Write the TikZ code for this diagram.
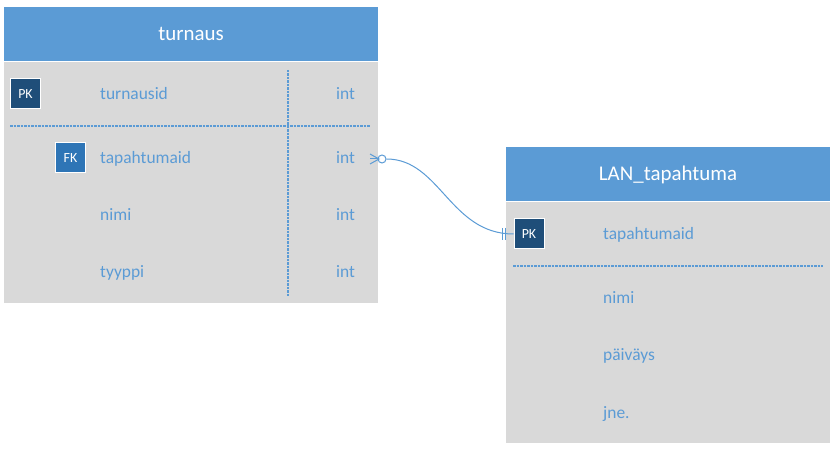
\documentclass[tikz,border=0pt]{standalone}
\usepackage{fontspec}
\setmainfont{Carlito}
\definecolor{hdr}{HTML}{5B9BD5}
\definecolor{bodyg}{HTML}{D9D9D9}
\definecolor{txt}{HTML}{5B9BD5}
\definecolor{pkc}{HTML}{1F4E79}
\definecolor{fkc}{HTML}{2E75B6}
\tikzset{
  hdrbox/.style={fill=hdr, draw=none, anchor=north west, inner sep=0pt},
  bodybox/.style={fill=bodyg, draw=none, anchor=north west, inner sep=0pt},
  title/.style={text=white, font=\fontsize{21}{24}\selectfont, anchor=base, inner sep=0pt},
  keybox/.style={draw=white, line width=1bp, minimum size=30bp, inner sep=0pt, text=white, font=\fontsize{14}{16}\selectfont},
  field/.style={text=txt, font=\fontsize{17.5}{20}\selectfont, anchor=base west, inner sep=0pt},
  sep/.style={draw=txt, line width=1.1bp, dash pattern=on 2.5bp off 1bp},
  conn/.style={draw=txt, line width=1bp}
}
\begin{document}
\begin{tikzpicture}[x=1bp,y=-1bp]
\useasboundingbox (0,0) rectangle (838,450);
% table turnaus
\node[hdrbox, minimum width=374bp, minimum height=54bp] (t1h) at (4,7) {};
\node[bodybox, minimum width=374bp, minimum height=241bp] (t1b) at (4,62) {};
\node[title] (t1t) at (191,40.5) {turnaus};
\coordinate (s1a) at (10,126);
\coordinate (s1b) at (370,126);
\draw[sep] (s1a) -- (s1b);
\coordinate (v1a) at (288,70);
\coordinate (v1b) at (288,297);
\draw[sep] (v1a) -- (v1b);
\node[keybox, fill=pkc] (pk1) at (25.5,94) {PK};
\node[keybox, fill=fkc] (fk1) at (70.5,158) {FK};
\node[field] (f1) at (100,100) {turnausid};
\node[field] (f2) at (100,164) {tapahtumaid};
\node[field] (f3) at (100,221) {nimi};
\node[field] (f4) at (100,278) {tyyppi};
\node[field] (i1) at (336,100) {int};
\node[field] (i2) at (336,164) {int};
\node[field] (i3) at (336,221) {int};
\node[field] (i4) at (336,278) {int};
% table LAN_tapahtuma
\node[hdrbox, minimum width=324bp, minimum height=54bp] (t2h) at (506,147) {};
\node[bodybox, minimum width=324bp, minimum height=241bp] (t2b) at (506,202) {};
\node[title] (t2t) at (668,180.5) {LAN\_tapahtuma};
\coordinate (s2a) at (513,266);
\coordinate (s2b) at (823,266);
\draw[sep] (s2a) -- (s2b);
\node[keybox, fill=pkc] (pk2) at (529,234) {PK};
\node[field] (g1) at (603,240) {tapahtumaid};
\node[field] (g2) at (603,304) {nimi};
\node[field] (g3) at (603,361) {päiväys};
\node[field] (g4) at (603,418) {jne.};
% connector
\coordinate (cfa) at (370,154);
\coordinate (cfm) at (370,159);
\coordinate (cfb) at (370,164);
\coordinate (cft) at (379,159);
\node[circle, draw=txt, line width=1bp, fill=white, minimum size=8bp, inner sep=0pt] (cc) at (382,159) {};
\draw[conn] (cfa) -- (cft) -- (cfb);
\draw[conn] (cfm) -- (cc.west);
\draw[conn] (cc.east) .. controls (440,159) and (450,234) .. (pk2.west);
\coordinate (b1a) at (502,228);
\coordinate (b1b) at (502,240);
\coordinate (b2a) at (505,228);
\coordinate (b2b) at (505,240);
\draw[conn] (b1a) -- (b1b);
\draw[conn] (b2a) -- (b2b);
\end{tikzpicture}
\end{document}
